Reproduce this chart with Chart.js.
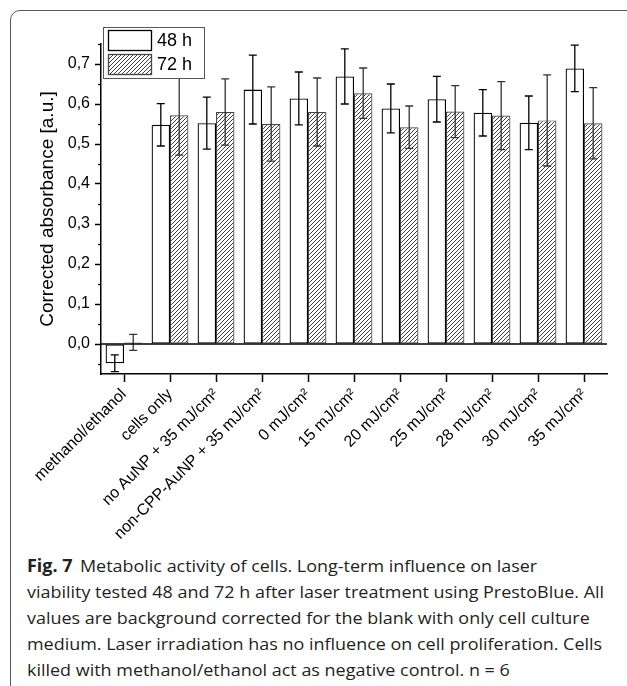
<!DOCTYPE html>
<html>
<head>
<meta charset="utf-8">
<script src="https://cdn.jsdelivr.net/npm/chart.js@4/dist/chart.umd.min.js"></script>
<style>
  html, body { margin: 0; padding: 0; background: #fff; }
  body { width: 627px; height: 686px; overflow: hidden; position: relative; }
  #frame {
    position: absolute; left: 10px; top: 10px; width: 650px; height: 720px;
    border: 1.5px solid #555; border-radius: 10px; box-sizing: border-box;
  }
  #chart { position: absolute; left: 0; top: 0; }
  #caption {
    position: absolute; left: 27px; top: 553px;
    font-family: 'Open Sans', sans-serif; font-size: 17px; line-height: 26px;
    color: #231f20; white-space: nowrap; transform-origin: left top;
  }
  #caption b { margin-right: 7px; }
</style>
</head>
<body>
<div id="frame"></div>
<canvas id="chart" width="627" height="550"></canvas>
<div id="caption">
  <div><b>Fig. 7</b>Metabolic activity of cells. Long-term influence on laser</div>
  <div id="capLine1">viability tested 48 and 72 h after laser treatment using PrestoBlue. All</div>
  <div>values are background corrected for the blank with only cell culture</div>
  <div>medium. Laser irradiation has no influence on cell proliferation. Cells</div>
  <div>killed with methanol/ethanol act as negative control. n = 6</div>
</div>
<script>
const categories = [
  'methanol/ethanol', 'cells only', 'no AuNP + 35 mJ/cm²', 'non-CPP-AuNP + 35 mJ/cm²',
  '0 mJ/cm²', '15 mJ/cm²', '20 mJ/cm²', '25 mJ/cm²', '28 mJ/cm²', '30 mJ/cm²', '35 mJ/cm²'
];
const values48 = [-0.048, 0.548, 0.552, 0.636, 0.614, 0.669, 0.589, 0.612, 0.578, 0.553, 0.689];
const err48    = [0.021, 0.053, 0.065, 0.086, 0.066, 0.069, 0.061, 0.057, 0.058, 0.067, 0.058];
const values72 = [0.004, 0.572, 0.580, 0.550, 0.580, 0.627, 0.542, 0.581, 0.571, 0.559, 0.552];
const err72    = [0.020, 0.100, 0.083, 0.093, 0.085, 0.063, 0.053, 0.065, 0.085, 0.114, 0.089];
const yTicks      = [0, 0.1, 0.2, 0.3, 0.4, 0.5, 0.6, 0.7];
const yMinorTicks = [-0.05, 0.05, 0.15, 0.25, 0.35, 0.45, 0.55, 0.65, 0.75];

const canvas = document.getElementById('chart');
const ctx = canvas.getContext('2d');

function makeHatch(){
  const c = document.createElement('canvas');
  c.width = 4; c.height = 4;
  const g = c.getContext('2d');
  g.fillStyle = '#fff';
  g.fillRect(0, 0, 4, 4);
  g.strokeStyle = '#2a2a2a';
  g.lineWidth = 0.9;
  g.beginPath();
  g.moveTo(0, 4); g.lineTo(4, 0);
  g.moveTo(-1, 1); g.lineTo(1, -1);
  g.moveTo(3, 5); g.lineTo(5, 3);
  g.stroke();
  return ctx.createPattern(c, 'repeat');
}
const hatch = makeHatch();

const errorBars = {
  id: 'errorBars',
  afterDatasetsDraw(chart){
    const y = chart.scales.y;
    const c = chart.ctx;
    const errs = [err48, err72];
    const colors = ['#000', '#333'];
    c.save();
    chart.data.datasets.forEach((ds, i) => {
      const meta = chart.getDatasetMeta(i);
      c.strokeStyle = colors[i];
      c.lineWidth = 1.3;
      meta.data.forEach((bar, j) => {
        const v = ds.data[j];
        const e = errs[i][j];
        const top = y.getPixelForValue(v + e);
        const bot = y.getPixelForValue(v - e);
        c.beginPath();
        c.moveTo(bar.x, top); c.lineTo(bar.x, bot);
        c.moveTo(bar.x - 4, top); c.lineTo(bar.x + 4, top);
        c.moveTo(bar.x - 4, bot); c.lineTo(bar.x + 4, bot);
        c.stroke();
      });
    });
    c.restore();
  }
};

const axisExtras = {
  id: 'axisExtras',
  afterDraw(chart){
    const y = chart.scales.y;
    const area = chart.chartArea;
    const c = chart.ctx;
    c.save();
    c.strokeStyle = '#000';
    c.lineWidth = 1.5;
    // zero line
    const y0 = y.getPixelForValue(0);
    c.beginPath();
    c.moveTo(area.left, y0); c.lineTo(area.right, y0);
    c.stroke();
    // minor ticks
    c.lineWidth = 1.2;
    yMinorTicks.forEach(v => {
      const py = Math.round(y.getPixelForValue(v)) + 0.5;
      c.beginPath();
      c.moveTo(area.left - 3, py); c.lineTo(area.left, py);
      c.stroke();
    });
    c.restore();
  }
};

const boxLegend = {
  id: 'boxLegend',
  afterDraw(chart){
    const c = chart.ctx;
    const x0 = 103, y0 = 27, w = 101, h = 51;
    c.save();
    c.fillStyle = '#fff';
    c.fillRect(x0, y0, w, h);
    c.strokeStyle = '#555';
    c.lineWidth = 1;
    c.strokeRect(x0 + 0.5, y0 + 0.5, w, h);
    c.font = '18px "Liberation Sans", Arial, sans-serif';
    c.textBaseline = 'middle';
    chart.data.datasets.forEach((ds, i) => {
      const sy = 30 + i * 24;
      c.fillStyle = ds.backgroundColor;
      c.fillRect(108, sy, 44, 21);
      c.strokeStyle = ds.borderColor;
      c.lineWidth = 1.3;
      c.strokeRect(108.5, sy + 0.5, 43, 20);
      c.fillStyle = '#000';
      c.fillText(ds.label, 157, sy + 11);
    });
    c.restore();
  }
};

new Chart(canvas, {
  type: 'bar',
  data: {
    labels: categories,
    datasets: [
      {
        label: '48 h',
        data: values48,
        backgroundColor: '#fff',
        borderColor: '#000',
        borderWidth: 1.3,
        borderSkipped: false
      },
      {
        label: '72 h',
        data: values72,
        backgroundColor: hatch,
        borderColor: '#444',
        borderWidth: 1.2,
        borderSkipped: false
      }
    ]
  },
  options: {
    responsive: false,
    animation: false,
    devicePixelRatio: 1,
    categoryPercentage: 0.8,
    barPercentage: 1.0,
    layout: { padding: { left: 36, top: 44, right: 20, bottom: 0 } },
    plugins: {
      legend: { display: false },
      tooltip: { enabled: false }
    },
    scales: {
      x: {
        offset: true,
        afterFit(scale){ scale.height = 176; },
        grid: {
          offset: false,
          drawOnChartArea: false,
          drawTicks: true,
          tickLength: 8,
          tickColor: '#000',
          tickWidth: 1.5
        },
        border: { display: true, color: '#000', width: 1.5 },
        ticks: {
          autoSkip: false,
          minRotation: 45,
          maxRotation: 45,
          padding: 3,
          color: '#000',
          font: { family: '"Liberation Sans", Arial, sans-serif', size: 16 }
        }
      },
      y: {
        min: -0.075,
        max: 0.75,
        afterFit(scale){ scale.width = 65; },
        afterBuildTicks(scale){
          scale.ticks = yTicks.map(v => ({ value: v }));
        },
        grid: {
          drawOnChartArea: false,
          drawTicks: true,
          tickLength: 6,
          tickColor: '#000',
          tickWidth: 1.5
        },
        border: { display: true, color: '#000', width: 1.5 },
        ticks: {
          padding: 5,
          color: '#000',
          font: { family: '"Liberation Sans", Arial, sans-serif', size: 16 },
          callback: v => v.toFixed(1).replace('.', ',')
        },
        title: {
          display: true,
          text: 'Corrected absorbance [a.u.]',
          color: '#000',
          padding: 0,
          font: { family: '"Liberation Sans", Arial, sans-serif', size: 19 }
        }
      }
    }
  },
  plugins: [errorBars, axisExtras, boxLegend]
});

// fit caption width to the reference's line length
const cap = document.getElementById('caption');
const line1 = document.getElementById('capLine1');
const span = document.createElement('span');
span.textContent = line1.textContent;
line1.textContent = '';
line1.appendChild(span);
const k = 577 / span.getBoundingClientRect().width;
cap.style.transform = 'scaleX(' + k.toFixed(3) + ')';
</script>
</body>
</html>
